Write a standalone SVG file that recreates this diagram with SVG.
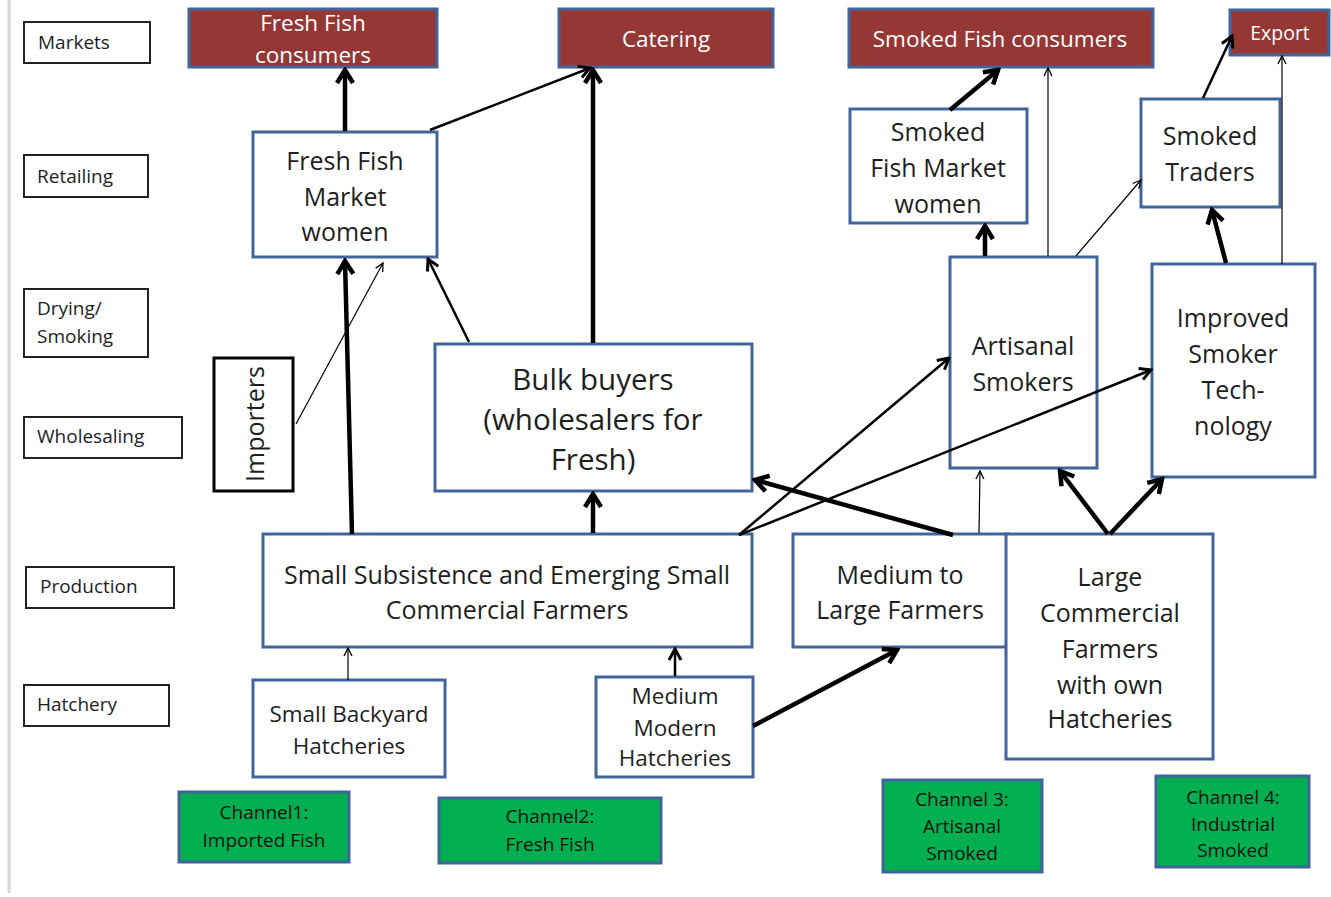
<svg xmlns="http://www.w3.org/2000/svg" width="1331" height="897" viewBox="0 0 1331 897">
<style>
text{font-family:"Open Sans","Liberation Sans",sans-serif;fill:#1e1e1e;text-anchor:middle;dominant-baseline:central}
.lab{fill:#fff;stroke:#222;stroke-width:2}
.lt{font-size:19px;text-anchor:start}
.red{fill:#953735;stroke:#41659a;stroke-width:3}
.rt{fill:#fff;font-size:22.5px}
.wb{fill:#fff;stroke:#41659a;stroke-width:3}
.wt{font-size:25px}
.gb{fill:#00b050;stroke:#41659a;stroke-width:3}
.gt{font-size:19px;fill:#111}
.c{fill:none;stroke:#000}
.k{stroke-width:4.5;marker-end:url(#ak)}
.m{stroke-width:2.5;marker-end:url(#am)}
.t{stroke-width:1.2;marker-end:url(#at)}
</style>
<defs>
<marker id="ak" markerUnits="userSpaceOnUse" markerWidth="20" markerHeight="20" viewBox="0 0 20 20" refX="17" refY="10" orient="auto"><path d="M4,2 L17,10 L4,18" fill="none" stroke="#000" stroke-width="4.5"/></marker>
<marker id="am" markerUnits="userSpaceOnUse" markerWidth="16" markerHeight="16" viewBox="0 0 16 16" refX="14" refY="8" orient="auto"><path d="M3,2 L14,8 L3,14" fill="none" stroke="#000" stroke-width="3"/></marker>
<marker id="at" markerUnits="userSpaceOnUse" markerWidth="12" markerHeight="12" viewBox="0 0 12 12" refX="11" refY="6" orient="auto"><path d="M3,2 L11,6 L3,10" fill="none" stroke="#000" stroke-width="1.3"/></marker>
</defs>
<rect x="0" y="0" width="1331" height="897" fill="#fff"/>
<line x1="9" y1="0" x2="9" y2="893" stroke="#d6d6d6" stroke-width="3"/>

<g id="stage-labels">
<g id="lab-markets"><rect class="lab" x="24" y="22" width="126" height="41"/><text class="lt" x="38" y="42">Markets</text></g>
<g id="lab-retailing"><rect class="lab" x="24" y="155" width="124" height="42"/><text class="lt" x="37" y="176">Retailing</text></g>
<g id="lab-drying"><rect class="lab" x="24" y="289" width="124" height="68"/><text class="lt" x="37" y="308">Drying/</text><text class="lt" x="37" y="336">Smoking</text></g>
<g id="lab-wholesaling"><rect class="lab" x="24" y="417" width="158" height="41"/><text class="lt" x="37" y="436">Wholesaling</text></g>
<g id="lab-production"><rect class="lab" x="26" y="567" width="148" height="41"/><text class="lt" x="40" y="586">Production</text></g>
<g id="lab-hatchery"><rect class="lab" x="24" y="685" width="145" height="41"/><text class="lt" x="37" y="704">Hatchery</text></g>
</g>

<g id="n-fresh-consumers"><rect class="red" x="189" y="9" width="248" height="58"/><text class="rt" x="313" y="22">Fresh Fish</text><text class="rt" x="313" y="54">consumers</text></g>
<g id="n-catering"><rect class="red" x="559" y="9" width="214" height="58"/><text class="rt" x="666" y="38">Catering</text></g>
<g id="n-smoked-consumers"><rect class="red" x="849" y="9" width="304" height="58"/><text class="rt" x="1000" y="38">Smoked Fish consumers</text></g>
<g id="n-export"><rect class="red" x="1230" y="10" width="99" height="45"/><text class="rt" x="1280" y="32" style="font-size:19.5px">Export</text></g>

<g id="n-fresh-market-women"><rect class="wb" x="253" y="132" width="184" height="125"/><text class="wt" x="345" y="160">Fresh Fish</text><text class="wt" x="345" y="196">Market</text><text class="wt" x="345" y="231">women</text></g>
<g id="n-smoked-market-women"><rect class="wb" x="850" y="109" width="177" height="114"/><text class="wt" x="938" y="131">Smoked</text><text class="wt" x="938" y="167">Fish Market</text><text class="wt" x="938" y="203">women</text></g>
<g id="n-smoked-traders"><rect class="wb" x="1141" y="99" width="139" height="108"/><text class="wt" x="1210" y="135">Smoked</text><text class="wt" x="1210" y="171">Traders</text></g>
<g id="n-importers"><rect x="214" y="358" width="79" height="133" fill="#fff" stroke="#000" stroke-width="3"/><text class="wt" transform="translate(254 424) rotate(-90)" x="0" y="0">Importers</text></g>
<g id="n-bulk-buyers"><rect class="wb" x="435" y="344" width="317" height="147"/><text x="593" y="378" style="font-size:29.5px">Bulk buyers</text><text x="593" y="418" style="font-size:29.5px">(wholesalers for</text><text x="593" y="458" style="font-size:29.5px">Fresh)</text></g>
<g id="n-artisanal-smokers"><rect class="wb" x="950" y="257" width="147" height="211"/><text class="wt" x="1023" y="345">Artisanal</text><text class="wt" x="1023" y="381">Smokers</text></g>
<g id="n-improved-smoker"><rect class="wb" x="1152" y="264" width="163" height="213"/><text class="wt" x="1233" y="317">Improved</text><text class="wt" x="1233" y="353">Smoker</text><text class="wt" x="1233" y="389">Tech-</text><text class="wt" x="1233" y="425">nology</text></g>
<g id="n-small-subsistence"><rect class="wb" x="263" y="534" width="489" height="113"/><text class="wt" x="507" y="574">Small Subsistence and Emerging Small</text><text class="wt" x="507" y="609">Commercial Farmers</text></g>
<g id="n-medium-large"><rect class="wb" x="793" y="534" width="215" height="113"/><text class="wt" x="900" y="574">Medium to</text><text class="wt" x="900" y="609">Large Farmers</text></g>
<g id="n-large-commercial"><rect class="wb" x="1006" y="534" width="207" height="225"/><text class="wt" x="1110" y="576">Large</text><text class="wt" x="1110" y="612">Commercial</text><text class="wt" x="1110" y="648">Farmers</text><text class="wt" x="1110" y="684">with own</text><text class="wt" x="1110" y="718">Hatcheries</text></g>
<g id="n-small-backyard"><rect class="wb" x="253" y="680" width="192" height="97"/><text x="349" y="713" style="font-size:22.5px">Small Backyard</text><text x="349" y="745" style="font-size:22.5px">Hatcheries</text></g>
<g id="n-medium-modern"><rect class="wb" x="596" y="677" width="157" height="100"/><text x="675" y="695" style="font-size:22.5px">Medium</text><text x="675" y="727" style="font-size:22.5px">Modern</text><text x="675" y="757" style="font-size:22.5px">Hatcheries</text></g>

<g id="n-channel1"><rect class="gb" x="179" y="792" width="170" height="70"/><text class="gt" x="264" y="812">Channel1:</text><text class="gt" x="264" y="840">Imported Fish</text></g>
<g id="n-channel2"><rect class="gb" x="439" y="798" width="222" height="65"/><text class="gt" x="550" y="816">Channel2:</text><text class="gt" x="550" y="844">Fresh Fish</text></g>
<g id="n-channel3"><rect class="gb" x="883" y="780" width="159" height="92"/><text class="gt" x="962" y="799">Channel 3:</text><text class="gt" x="962" y="826">Artisanal</text><text class="gt" x="962" y="853">Smoked</text></g>
<g id="n-channel4"><rect class="gb" x="1156" y="776" width="153" height="91"/><text class="gt" x="1233" y="797">Channel 4:</text><text class="gt" x="1233" y="824">Industrial</text><text class="gt" x="1233" y="850">Smoked</text></g>

<g id="connectors">
<line class="c k" x1="345" y1="131" x2="345" y2="70"/>
<line class="c m" x1="430" y1="130" x2="590" y2="68"/>
<line class="c k" x1="593" y1="343" x2="593" y2="70"/>
<line class="c k" x1="352" y1="534" x2="345" y2="261"/>
<line class="c t" x1="296" y1="424" x2="383" y2="263"/>
<line class="c m" x1="469" y1="342" x2="428" y2="259"/>
<line class="c k" x1="593" y1="533" x2="593" y2="494"/>
<line class="c m" x1="739" y1="535" x2="949" y2="358"/>
<line class="c m" x1="739" y1="535" x2="1151" y2="370"/>
<line class="c k" x1="953" y1="535" x2="755" y2="480"/>
<line class="c t" x1="979" y1="533" x2="980" y2="471"/>
<line class="c k" x1="1108" y1="534" x2="1060" y2="471"/>
<line class="c k" x1="1110" y1="534" x2="1162" y2="479"/>
<line class="c k" x1="985" y1="256" x2="985" y2="226"/>
<line class="c t" x1="1048" y1="256" x2="1048" y2="68"/>
<line class="c t" x1="1076" y1="256" x2="1141" y2="180"/>
<line class="c k" x1="1226" y1="263" x2="1212" y2="210"/>
<line class="c t" x1="1282" y1="264" x2="1282" y2="56"/>
<line class="c m" x1="1203" y1="98" x2="1232" y2="36"/>
<line class="c k" x1="950" y1="110" x2="998" y2="70"/>
<line class="c t" x1="348" y1="680" x2="348" y2="648"/>
<line class="c m" x1="675" y1="676" x2="675" y2="649"/>
<line class="c k" x1="753" y1="726" x2="897" y2="650"/>
</g>
</svg>
